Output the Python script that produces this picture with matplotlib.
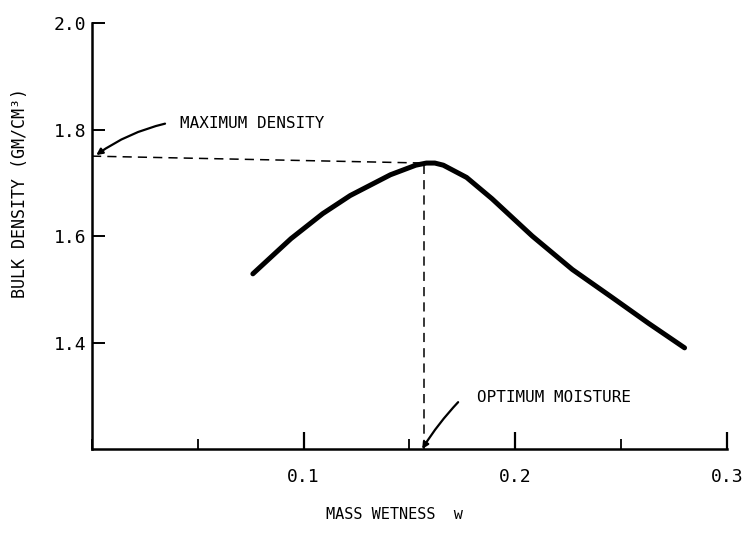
import matplotlib
matplotlib.use('Agg')
import matplotlib.pyplot as plt
from matplotlib.ticker import MultipleLocator

plt.rcParams['font.family'] = ['DejaVu Sans Mono']

# compaction curve
wetness = [0.076, 0.094, 0.109, 0.122, 0.141, 0.149, 0.153, 0.158, 0.162, 0.166,
           0.177, 0.189, 0.208, 0.227, 0.246, 0.263, 0.280]
density = [1.529, 1.595, 1.642, 1.676, 1.715, 1.727, 1.733, 1.737, 1.737, 1.733,
           1.710, 1.670, 1.600, 1.537, 1.484, 1.436, 1.390]
max_density = 1.75
optimum_w = 0.157

xticks = [0.1, 0.2, 0.3]
xticklabels = ['0.1', '0.2', '0.3']
yticks = [1.4, 1.6, 1.8, 2.0]
yticklabels = ['1.4', '1.6', '1.8', '2.0']

fig = plt.figure(figsize=(7.44, 5.35), dpi=100)
ax = fig.add_axes([0.1237, 0.1607, 0.8533, 0.7963])

ax.plot(wetness, density, color='black', lw=3.6, solid_capstyle='round', solid_joinstyle='round')
ax.plot([0, optimum_w], [max_density, max(density)], color='black', lw=1.1, ls=(0, (6, 4)))
ax.plot([optimum_w, optimum_w], [1.2, max(density)], color='black', lw=1.1, ls=(0, (6, 4)))

ax.set_xlim(0, 0.3)
ax.set_ylim(1.2, 2.0)
ax.spines['top'].set_visible(False)
ax.spines['right'].set_visible(False)
ax.spines['left'].set_linewidth(1.8)
ax.spines['bottom'].set_linewidth(1.8)

ax.set_xticks(xticks)
ax.set_xticklabels(xticklabels)
ax.xaxis.set_minor_locator(MultipleLocator(0.05))
ax.set_yticks(yticks)
ax.set_yticklabels(yticklabels)
ax.tick_params(axis='x', which='major', direction='in', length=12, width=1.6, pad=14, labelsize=13)
ax.tick_params(axis='x', which='minor', direction='in', length=7, width=1.3)
ax.tick_params(axis='y', which='major', direction='in', length=9, width=1.4, pad=4, labelsize=13)
ax.tick_params(axis='y', which='minor', left=False)

ax.set_xlabel('MASS WETNESS  w', fontsize=11)
ax.xaxis.set_label_coords(0.477, -0.135)
ax.set_ylabel('BULK DENSITY (GM/CM³)', fontsize=12)
ax.yaxis.set_label_coords(-0.1, 0.6)

# labels and their pointer arrows
ax.text(0.0416, 1.811, 'MAXIMUM DENSITY', fontsize=11.5, va='center', ha='left')
ax.annotate('', xy=(0.002, 1.752), xytext=(0.0345, 1.811),
            arrowprops=dict(arrowstyle='-|>', color='black', lw=1.6, mutation_scale=9,
                            shrinkA=0, shrinkB=0, connectionstyle='arc3,rad=0.1'))
ax.text(0.182, 1.296, 'OPTIMUM MOISTURE', fontsize=11.5, va='center', ha='left')
ax.annotate('', xy=(0.156, 1.2), xytext=(0.173, 1.288), annotation_clip=False,
            arrowprops=dict(arrowstyle='-|>', color='black', lw=1.6, mutation_scale=9,
                            shrinkA=0, shrinkB=0, connectionstyle='arc3,rad=0.05'))

fig.savefig('out.png', dpi=100)
